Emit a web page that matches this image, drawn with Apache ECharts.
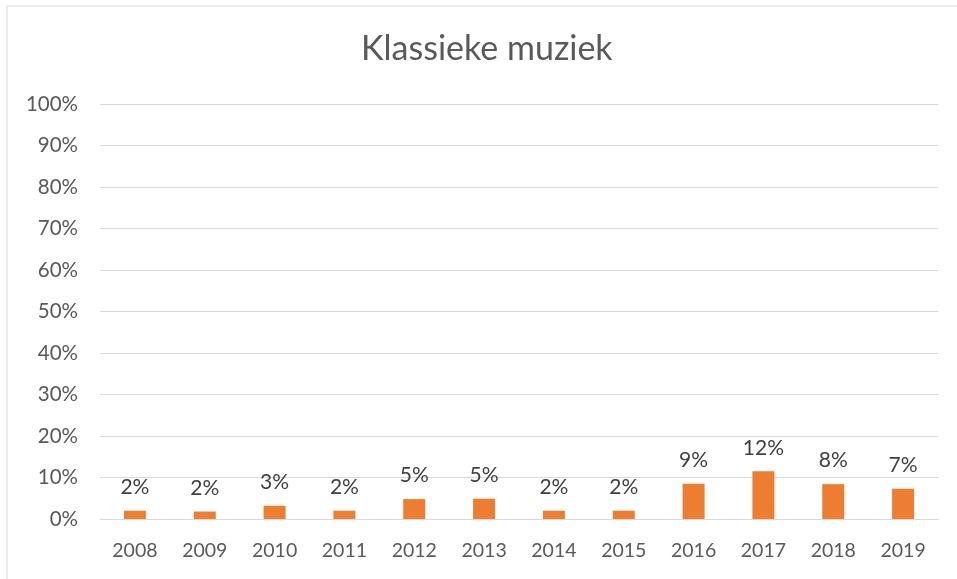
<!DOCTYPE html>
<html>
<head>
<meta charset="utf-8">
<script src="https://cdn.jsdelivr.net/npm/echarts@6/dist/echarts.min.js"></script>
<style>html,body{margin:0;padding:0;background:#fff;}#c{width:957px;height:579px;}</style>
</head>
<body>
<div id="c"></div>
<script>
const titleText = 'Klassieke muziek';
const categories = ['2008','2009','2010','2011','2012','2013','2014','2015','2016','2017','2018','2019'];
const values = [0.020, 0.018, 0.032, 0.020, 0.048, 0.049, 0.020, 0.020, 0.085, 0.115, 0.084, 0.073];
const yTicks = [0, 0.1, 0.2, 0.3, 0.4, 0.5, 0.6, 0.7, 0.8, 0.9, 1.0];

const chart = echarts.init(document.getElementById('c'));
const font = 'Lato, "Liberation Sans", sans-serif';
chart.setOption({
  animation: false,
  backgroundColor: '#ffffff',
  title: {
    text: titleText, left: 356, top: 27,
    textStyle: { fontFamily: font, fontSize: 34, fontWeight: 'normal', color: '#595959' }
  },
  graphic: [{
    type: 'rect', shape: { x: 7, y: 6, width: 1000, height: 1000 },
    style: { fill: 'none', stroke: '#d9d9d9', lineWidth: 1 }, silent: true
  }],
  grid: { left: 100, right: 19, top: 104, bottom: 60, containLabel: false },
  xAxis: {
    type: 'category', data: categories,
    axisLine: { lineStyle: { color: '#d9d9d9', width: 1 } },
    axisTick: { show: false },
    axisLabel: { fontFamily: font, fontSize: 19.5, color: '#595959', margin: 22 }
  },
  yAxis: {
    type: 'value', min: yTicks[0], max: yTicks[yTicks.length - 1], interval: 0.1,
    axisLine: { show: false }, axisTick: { show: false },
    splitLine: { lineStyle: { color: '#d9d9d9', width: 1 } },
    axisLabel: { fontFamily: font, fontSize: 20.5, color: '#595959', margin: 22,
      formatter: v => Math.round(v * 100) + '%' }
  },
  series: [{
    type: 'bar', data: values, barWidth: 22,
    itemStyle: { color: '#ED7D31' },
    label: { show: true, position: 'top', distance: 13,
      fontFamily: font, fontSize: 21, color: '#404040',
      formatter: p => Math.round(p.value * 100) + '%' }
  }]
});
</script>
</body>
</html>
